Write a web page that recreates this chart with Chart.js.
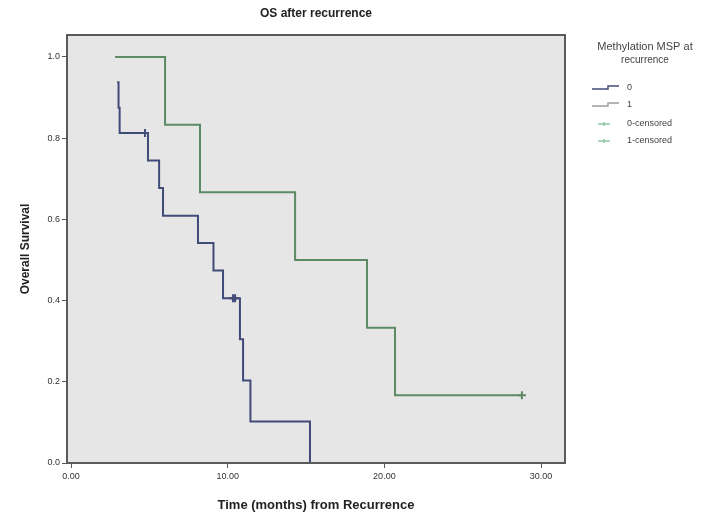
<!DOCTYPE html>
<html>
<head>
<meta charset="utf-8">
<script src="https://cdn.jsdelivr.net/npm/chart.js@4/dist/chart.umd.min.js"></script>
<style>
  html,body{margin:0;padding:0;background:#fff;}
  #c{display:block;}
</style>
</head>
<body>
<canvas id="c" width="726" height="519"></canvas>
<script>
// ----- data -----
const groupNames = ['0', '1'];
const legendTitle = ['Methylation MSP at', 'recurrence'];
const censorNames = ['0-censored', '1-censored'];

// group 0: step points (time in months, survival after the event)
const g0Times = [2.94, 3.03, 3.10, 4.91, 5.62, 5.87, 8.10, 9.09, 9.70, 10.78, 10.98, 11.45, 15.25];
const g0Surv  = [0.9375, 0.875, 0.8125, 0.745, 0.677, 0.609, 0.542, 0.474, 0.406, 0.305, 0.203, 0.102, 0];
const g0CensTimes = [4.72, 10.34, 10.47];
const g0CensSurv  = [0.8125, 0.406, 0.406];

// group 1
const g1Times = [2.81, 6.00, 8.23, 14.30, 18.89, 20.68, 28.78];
const g1Surv  = [1.0, 0.833, 0.667, 0.5, 0.333, 0.167, 0.167];
const g1CensTimes = [28.78];
const g1CensSurv  = [0.167];

const xTicks = [0, 10, 20, 30];
const yTicks = [0, 0.2, 0.4, 0.6, 0.8, 1.0];

const BLUE = '#414b7a', GREEN = '#5b8a64';
const FONT = '"Liberation Sans", Arial, sans-serif';
const pts = (xs, ys) => xs.map((x, i) => ({x, y: ys[i]}));

// plot background + frame + legend on the right
const decor = {
  id: 'decor',
  beforeDatasetsDraw(chart){
    const {ctx, chartArea:a} = chart;
    ctx.save();
    ctx.fillStyle = '#e6e6e6';
    ctx.fillRect(a.left, a.top, a.right - a.left, a.bottom - a.top);
    ctx.restore();
  },
  afterDraw(chart){
    const {ctx, chartArea:a} = chart;
    ctx.save();
    ctx.strokeStyle = '#5a5a5a'; ctx.lineWidth = 2;
    ctx.strokeRect(a.left, a.top, a.right - a.left, a.bottom - a.top);
    // legend
    ctx.fillStyle = '#444'; ctx.textBaseline = 'middle';
    ctx.font = '11px ' + FONT; ctx.textAlign = 'center';
    ctx.fillText(legendTitle[0], 645, 47);
    ctx.font = '10px ' + FONT;
    ctx.fillText(legendTitle[1], 645, 60);
    ctx.textAlign = 'left'; ctx.font = '9px ' + FONT;
    const cols = [BLUE, '#9aa09c'];
    groupNames.forEach((g, i) => {
      const y = 89 + i * 17;
      ctx.strokeStyle = cols[i]; ctx.lineWidth = 1.5;
      ctx.beginPath(); ctx.moveTo(592, y); ctx.lineTo(608, y); ctx.lineTo(608, y - 3); ctx.lineTo(619, y - 3); ctx.stroke();
      ctx.fillStyle = '#444'; ctx.fillText(g, 627, y - 1);
    });
    censorNames.forEach((g, i) => {
      const y = 124 + i * 17;
      ctx.strokeStyle = '#8fc7a6'; ctx.lineWidth = 1.5;
      ctx.beginPath(); ctx.moveTo(598, y); ctx.lineTo(610, y); ctx.moveTo(604, y - 2); ctx.lineTo(604, y + 2); ctx.stroke();
      ctx.fillStyle = '#444'; ctx.fillText(g, 627, y);
    });
    ctx.restore();
  }
};

new Chart(document.getElementById('c'), {
  type: 'line',
  data: {
    datasets: [
      {label: groupNames[0], data: pts(g0Times, g0Surv), borderColor: BLUE, borderWidth: 2, stepped: 'before', pointRadius: 0, fill: false},
      {label: groupNames[1], data: pts(g1Times, g1Surv), borderColor: GREEN, borderWidth: 2, stepped: 'before', pointRadius: 0, fill: false},
      {label: censorNames[0], type: 'scatter', data: pts(g0CensTimes, g0CensSurv), pointStyle: 'cross', pointRadius: 4, borderColor: BLUE, borderWidth: 2, showLine: false},
      {label: censorNames[1], type: 'scatter', data: pts(g1CensTimes, g1CensSurv), pointStyle: 'cross', pointRadius: 4, borderColor: GREEN, borderWidth: 2, showLine: false},
    ]
  },
  options: {
    responsive: false,
    animation: false,
    layout: {padding: {left: 0, right: 161, top: 0, bottom: 0}},
    plugins: {
      legend: {display: false},
      tooltip: {enabled: false},
      title: {display: true, text: 'OS after recurrence', fullSize: false, color: '#222',
              font: {family: FONT, size: 12, weight: 'bold', lineHeight: 1.2}, padding: {top: 6, bottom: 14.6}},
    },
    scales: {
      x: {
        type: 'linear', min: -0.26, max: 31.53,
        afterBuildTicks: s => { s.ticks = xTicks.map(v => ({value: v})); },
        afterFit: s => { s.height = 56; },
        ticks: {callback: v => v.toFixed(2), color: '#333', font: {family: FONT, size: 9}, padding: 3, maxRotation: 0},
        grid: {drawOnChartArea: false, drawTicks: true, tickLength: 5, color: '#555'},
        border: {display: true, color: '#5a5a5a', width: 2},
        title: {display: true, text: 'Time (months) from Recurrence', color: '#222',
                font: {family: FONT, size: 13, weight: 'bold'}, padding: {top: 4, bottom: 6}},
      },
      y: {
        type: 'linear', min: 0, max: 1.054,
        afterBuildTicks: s => { s.ticks = yTicks.map(v => ({value: v})); },
        afterFit: s => { s.width = 67; },
        ticks: {callback: v => v.toFixed(1), color: '#333', font: {family: FONT, size: 9}, padding: 2},
        grid: {drawOnChartArea: false, drawTicks: true, tickLength: 5, color: '#555'},
        border: {display: true, color: '#5a5a5a', width: 2},
        title: {display: true, text: 'Overall Survival', color: '#222',
                font: {family: FONT, size: 12, weight: 'bold'}, padding: {top: 18, bottom: 0}},
      }
    }
  },
  plugins: [decor]
});
</script>
</body>
</html>
